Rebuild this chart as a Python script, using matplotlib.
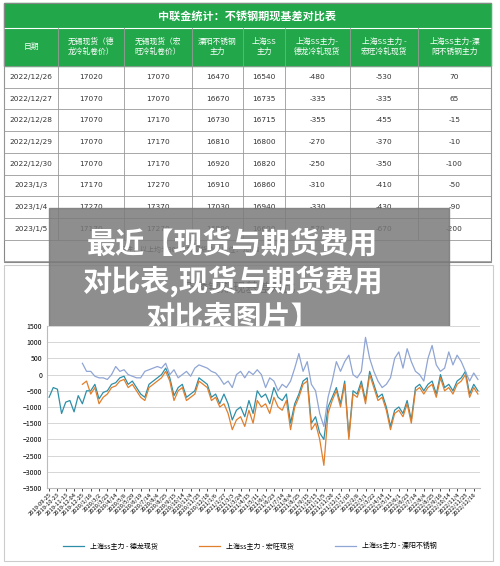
import matplotlib
matplotlib.use("Agg")
import matplotlib.pyplot as plt
import numpy as np
from matplotlib.patches import Rectangle

plt.rcParams['font.family'] = ['Noto Sans CJK SC', 'DejaVu Sans']

title = "中联金统计：不锈钢期现基差对比表"
headers = ["日期", "无锡现货（德\n龙冷轧卷价）", "无锡现货（宏\n旺冷轧卷价）", "溧阳不锈钢\n主力", "上海SS\n主力",
           "上海SS主力-\n德龙冷轧现货", "上海SS主力 -\n宏旺冷轧现货", "上海SS主力-溧\n阳不锈钢主力"]
dates = ["2022/12/26", "2022/12/27", "2022/12/28", "2022/12/29", "2022/12/30", "2023/1/3", "2023/1/4", "2023/1/5"]
delong = [17020, 17070, 17070, 17070, 17070, 17170, 17270, 17170]
hongwang = [17070, 17070, 17170, 17170, 17170, 17270, 17370, 17270]
liyang = [16470, 16670, 16730, 16810, 16920, 16910, 17030, 16800]
ss = [16540, 16735, 16715, 16800, 16820, 16860, 16940, 16600]
d_delong = [-480, -335, -355, -270, -250, -310, -330, -570]
d_hongwang = [-530, -335, -455, -370, -350, -410, -430, -670]
d_liyang = [70, 65, -15, -10, -100, -50, -90, -200]
note = "备注：以上均为30#冷轧现货价，单位：元/吨"

tick_labels = ["2019-09-25", "2019-10-23", "2019-11-13", "2019-12-04", "2019-12-25", "2020/1/16", "2020/3/2",
               "2020/3/23", "2020/4/14", "2020/5/8", "2020/5/29", "2020/6/19", "2020/7/14", "2020/8/4", "2020/8/25",
               "2020/9/15", "2020/10/14", "2020/11/4", "2020/11/25", "2020/12/16", "2021/1/6", "2021/1/27",
               "2021/3/3", "2021/3/24", "2021/4/15", "2021/5/11", "2021/6/1", "2021/6/23", "2021/7/14", "2021/8/4",
               "2021/8/25", "2021/9/15", "2021/10/15", "2021/11/5", "2021/11/26", "2021/12/17", "2022/1/10",
               "2022/2/8", "2022/3/1", "2022/3/22", "2022/4/14", "2022/5/11", "2022/6/1", "2022/6/23", "2022/7/14",
               "2022/8/4", "2022/8/25", "2022/9/16", "2022/10/14", "2022/11/4", "2022/11/25", "2022/12/16"]

s_hongwang = [np.nan]*8 + [-300, -200, -600, -400, -900, -700, -600, -400, -350, -200, -150, -400, -300, -500,
              -700, -800, -400, -300, -200, -100, 100, -200, -800, -500, -400, -800, -700, -600, -200, -300,
              -400, -800, -700, -1000, -900, -1200, -1700, -1400, -1300, -1600, -1100, -1500, -800, -1000,
              -900, -1200, -700, -1000, -1100, -800, -1700, -1000, -700, -300, -200, -1700, -1500, -2000,
              -2800, -1200, -800, -500, -1000, -300, -2000, -600, -700, -300, -900, 0, -400, -800, -700, -1100,
              -1700, -1200, -1100, -1300, -900, -1500, -500, -400, -600, -400, -300, -700, -100, -500, -400,
              -600, -300, -200, 0, -700, -400, -600]
s_delong = [-700, -400, -450, -1200, -850, -800, -1150, -650, -900, -500,
            -500, -300, -750, -550, -500, -300, -250, -100, -50, -300, -200, -400, -600, -700, -300, -200,
            -100, 0, 200, -100, -650, -400, -300, -700, -600, -500, -100, -200, -300, -700, -600, -900,
            -600, -900, -1400, -1100, -1000, -1300, -800, -1200, -500, -700, -600, -900, -400, -700, -800,
            -600, -1500, -900, -600, -200, -100, -1500, -1300, -1800, -2000, -1000, -700, -400, -900, -200,
            -1900, -500, -600, -200, -800, 100, -300, -700, -600, -1000, -1600, -1100, -1000, -1200, -800,
            -1400, -400, -300, -500, -300, -200, -600, 0, -400, -300, -500, -200, -100, 100, -600, -300, -500]
s_liyang = [np.nan]*8 + [350, 100, 100, -50, -100, -100, -150, 0, 250, 100, 150, 0, -50, -100, -100, 100, 150,
            200, 250, 200, 350, 0, 150, -100, 0, 100, -50, 200, 300, 250, 200, 100, 50, -100, -300, -200,
            -400, 0, 100, -100, 100, 0, 150, 0, -400, -100, -200, -500, -300, -400, -200, 200, 650, 100, 400,
            -300, -500, -1200, -1600, -700, -200, 400, 100, 400, 600, 0, -100, 100, 1150, 500, 100, -200,
            -400, -300, -100, 500, 700, 200, 800, 400, 100, 0, -200, 500, 900, 300, 100, 200, 700, 300, 600,
            400, 100, -200, 50, -150]

fig = plt.figure(figsize=(5, 5.66), dpi=100)
bg = fig.add_axes([0, 0, 1, 1])
bg.set_xlim(0, 500); bg.set_ylim(566, 0); bg.axis('off')

green = '#22A84A'
cols = [4, 58, 124, 192, 243, 285, 350, 418, 491]
bg.add_patch(Rectangle((4, 3), 487, 63, color=green, zorder=1))
bg.text(247, 16, title, color='white', fontsize=8, fontweight='bold', ha='center', va='center')
bg.plot([4, 491], [28, 28], color='white', lw=0.8)
for j, h in enumerate(headers):
    bg.text((cols[j]+cols[j+1])/2, 47, h, color='white', fontsize=5.6, ha='center', va='center', linespacing=1.3)
rows_y = [66 + 21.7*i for i in range(10)] + [262]
for i in range(8):
    yc = (rows_y[i] + rows_y[i+1]) / 2
    vals = [dates[i], delong[i], hongwang[i], liyang[i], ss[i], d_delong[i], d_hongwang[i], d_liyang[i]]
    for j, v in enumerate(vals):
        bg.text((cols[j]+cols[j+1])/2, yc, str(v), fontsize=5.3, ha='center', va='center', color='#333333',
                family=['DejaVu Sans'])
for y in rows_y[:-1]:
    bg.plot([4, 491], [y, y], color='#999999', lw=0.6)
for xc in cols:
    bg.plot([xc, xc], [28, rows_y[8]], color='#999999', lw=0.6)
bg.text(120, 250, note, fontsize=5, ha='left', va='center', color='#333333')
bg.add_patch(Rectangle((4, 3), 487, 259, fill=False, ec='#888888', lw=0.8))
bg.add_patch(Rectangle((4, 265), 489, 296, fill=False, ec='#cccccc', lw=0.8))
bg.text(240, 288, "不锈钢期现基差对比", fontsize=9, ha='center', va='center', color='#333333')

ax = fig.add_axes([47/500, 1-488/566, 433/500, 162/566])
for s, c, lab in [(s_delong, '#2E8FA8', '上海ss主力 - 德龙现货'), (s_hongwang, '#E07F2C', '上海ss主力 - 宏旺现货'),
                  (s_liyang, '#8FA5D4', '上海ss主力 - 溧阳不锈钢')]:
    ax.plot(np.arange(len(s)), s, color=c, lw=0.9, label=lab)
ax.set_ylim(-3500, 1500)
ax.set_yticks(range(-3500, 1501, 500))
ax.set_xlim(-0.5, 103.5)
ax.set_xticks(np.arange(len(tick_labels))*2)
ax.set_xticklabels(tick_labels, rotation=45, ha='right', rotation_mode='anchor', fontsize=4.2)
ax.tick_params(axis='y', labelsize=5, length=0)
ax.tick_params(axis='x', length=2, width=0.5, pad=1)
ax.grid(axis='y', color='#d0d0d0', lw=0.6)
for s in ['top', 'right']:
    ax.spines[s].set_visible(False)
ax.spines['left'].set_color('#bbbbbb'); ax.spines['bottom'].set_color('#bbbbbb')
fig.legend(loc='center', bbox_to_anchor=(0.5, 1-546/566), ncol=3, fontsize=5, frameon=False,
           columnspacing=6, handlelength=3)

bg.add_patch(Rectangle((49, 208), 400, 140, color='#7a7a7a', alpha=0.85, zorder=5))
for t, y in zip(["最近【现货与期货费用", "对比表,现货与期货费用", "对比表图片】"], [243, 281, 318]):
    bg.text(232, y, t, color='white', fontsize=21, fontweight='bold', ha='center', va='center', zorder=6)

fig.savefig('out.png', dpi=100)
